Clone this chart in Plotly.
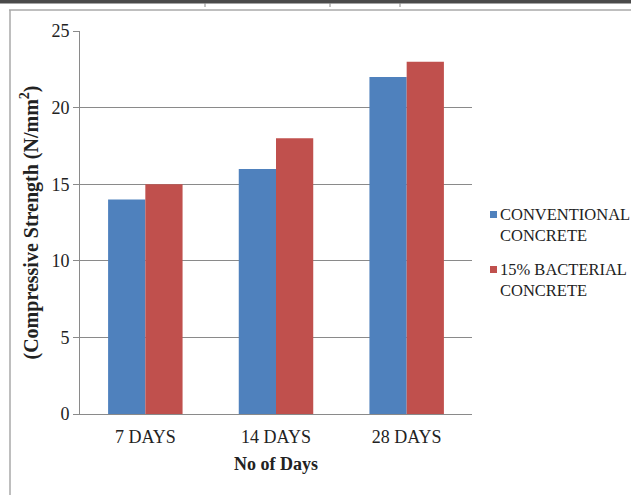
import plotly.graph_objects as go

# Compressive strength of concrete at different curing ages
days = ["7 DAYS", "14 DAYS", "28 DAYS"]
conventional = [14, 16, 22]
bacterial = [15, 18, 23]
series_names = ["CONVENTIONAL<br>CONCRETE", "15% BACTERIAL<br>CONCRETE"]
series_colors = ["#4F81BD", "#C0504D"]
y_ticks = [0, 5, 10, 15, 20, 25]

W, H = 631, 495
L, R, T, B = 80, 159, 31, 81
FONT = "Liberation Serif"
TXT = "#222222"

fig = go.Figure()
for vals, name, col in zip([conventional, bacterial], series_names, series_colors):
    fig.add_trace(go.Bar(x=days, y=vals, name=name, showlegend=False,
                         marker=dict(color=col, line=dict(width=0))))

# helpers converting pixel positions to paper coordinates
def px(x):
    return (x - L) / (W - L - R)

def py(y):
    return (H - B - y) / (H - T - B)

shapes = [
    # dark strip along the top edge
    dict(type="rect", xref="paper", yref="paper", x0=px(0), x1=px(W),
         y0=py(0), y1=py(3.5), fillcolor="#4a4a4a", line=dict(width=0), layer="above"),
    # chart frame
    dict(type="line", xref="paper", yref="paper", x0=px(9), x1=px(W),
         y0=py(10), y1=py(10), line=dict(color="#a8a8a8", width=1.5)),
    dict(type="line", xref="paper", yref="paper", x0=px(10), x1=px(10),
         y0=py(10), y1=py(H), line=dict(color="#a8a8a8", width=1.5)),
]
for sx in [205, 330, 400]:
    shapes.append(dict(type="line", xref="paper", yref="paper", x0=px(sx), x1=px(sx),
                       y0=py(3), y1=py(7), line=dict(color="#8a8a8a", width=1)))

# legend keys and labels placed beside the plot area
annotations = []
for i, (name, col) in enumerate(zip(series_names, series_colors)):
    top = 206 + i * 55
    shapes.append(dict(type="rect", xref="paper", yref="paper",
                       x0=px(490), x1=px(497), y0=py(top + 5), y1=py(top + 12),
                       fillcolor=col, line=dict(width=0)))
    annotations.append(dict(text=name, xref="paper", yref="paper",
                            x=px(498), y=py(top - 3), xanchor="left", yanchor="top",
                            align="left", showarrow=False,
                            font=dict(family=FONT, size=16.5, color=TXT)))

fig.update_layout(
    width=W, height=H,
    margin=dict(l=L, r=R, t=T, b=B, pad=0, autoexpand=False),
    paper_bgcolor="white", plot_bgcolor="white",
    barmode="group", bargap=0.43, bargroupgap=0,
    font=dict(family=FONT, size=18, color=TXT),
    shapes=shapes, annotations=annotations,
    xaxis=dict(
        showline=True, linecolor="#8a8a8a", linewidth=1,
        ticks="", showgrid=False,
        tickfont=dict(family=FONT, size=18, color=TXT),
        ticklabelstandoff=6,
        title=dict(text="<b>No of Days</b>", standoff=11,
                   font=dict(family=FONT, size=18, color=TXT)),
    ),
    yaxis=dict(
        range=[0, 25], tickvals=y_ticks,
        showline=True, linecolor="#8a8a8a", linewidth=1,
        ticks="outside", ticklen=6, tickcolor="#8a8a8a",
        showgrid=True, gridcolor="#8a8a8a", gridwidth=1,
        zeroline=False,
        tickfont=dict(family=FONT, size=18, color=TXT),
        title=dict(text="<b>(Compressive Strength (N/mm<sup>2</sup>)</b>", standoff=7,
                   font=dict(family=FONT, size=20, color=TXT)),
    ),
)

fig.write_html("out.html")
